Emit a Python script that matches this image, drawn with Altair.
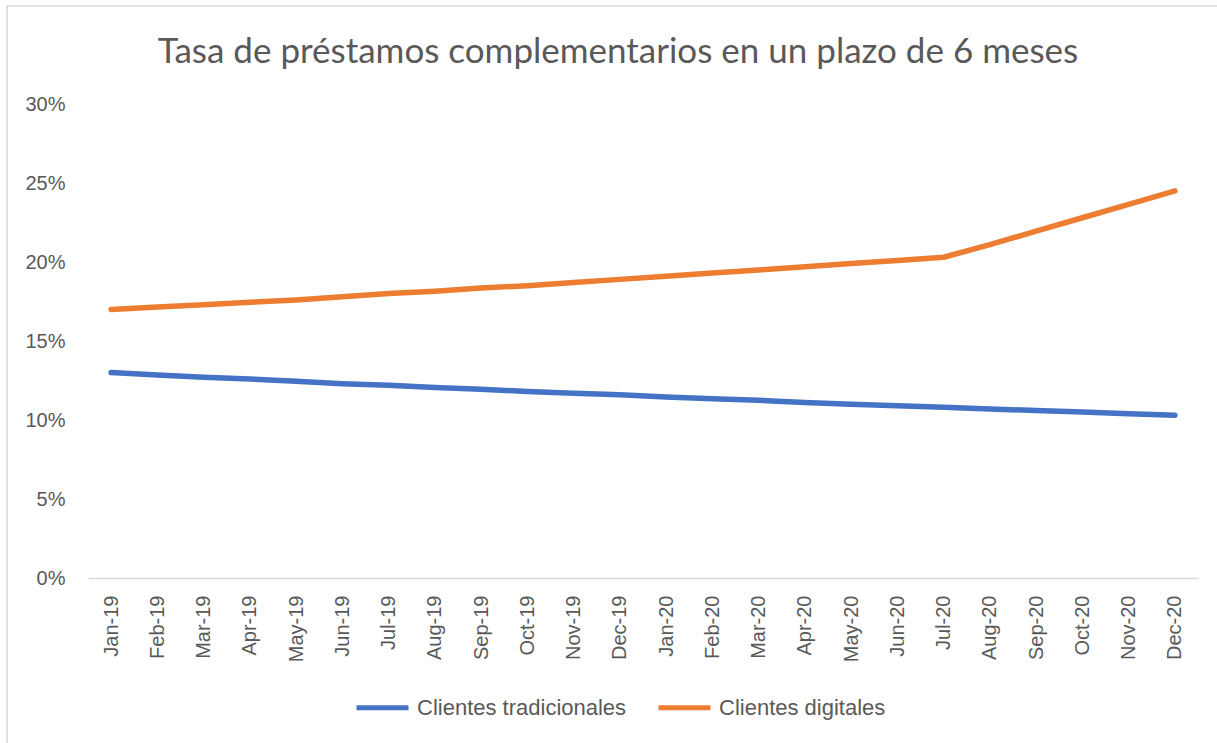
import altair as alt
import pandas as pd

months = ["Jan-19", "Feb-19", "Mar-19", "Apr-19", "May-19", "Jun-19", "Jul-19", "Aug-19",
          "Sep-19", "Oct-19", "Nov-19", "Dec-19", "Jan-20", "Feb-20", "Mar-20", "Apr-20",
          "May-20", "Jun-20", "Jul-20", "Aug-20", "Sep-20", "Oct-20", "Nov-20", "Dec-20"]
tradicionales = [13.0, 12.85, 12.7, 12.6, 12.45, 12.3, 12.2, 12.05, 11.95, 11.8, 11.7, 11.6,
                 11.45, 11.35, 11.25, 11.1, 11.0, 10.9, 10.8, 10.7, 10.6, 10.5, 10.4, 10.3]
digitales = [17.0, 17.15, 17.3, 17.45, 17.6, 17.8, 18.0, 18.15, 18.35, 18.5, 18.7, 18.9,
             19.1, 19.3, 19.5, 19.7, 19.9, 20.1, 20.3, 21.1, 21.95, 22.8, 23.65, 24.5]
series_names = ["Clientes tradicionales", "Clientes digitales"]
series_colors = ["#4472C4", "#ED7D31"]
y_ticks = [0, 5, 10, 15, 20, 25, 30]
title_text = "Tasa de préstamos complementarios en un plazo de 6 meses"

rows = []
for i, m in enumerate(months):
    rows.append({"mes": m, "serie": series_names[0], "valor": tradicionales[i], "orden": i})
    rows.append({"mes": m, "serie": series_names[1], "valor": digitales[i], "orden": i})
df = pd.DataFrame(rows)

TXT = "#595959"
FONT = "Liberation Sans"

lines = alt.Chart(df).mark_line(strokeWidth=5.5, strokeCap="round", strokeJoin="round").encode(
    x=alt.X("mes:N", sort=months, title=None,
            scale=alt.Scale(type="point", padding=0.5),
            axis=alt.Axis(labelAngle=270, ticks=False, labelPadding=17, domainColor="#d9d9d9",
                          domainWidth=1.5, labelColor=TXT, labelFont=FONT, labelFontSize=20,
                          grid=False)),
    y=alt.Y("valor:Q", title=None, scale=alt.Scale(domain=[0, 30]),
            axis=alt.Axis(values=y_ticks, labelExpr="datum.value + '%'", domain=False, ticks=False,
                          grid=False, labelPadding=23, labelColor=TXT, labelFont=FONT,
                          labelFontSize=20)),
    color=alt.Color("serie:N", sort=series_names,
                    scale=alt.Scale(domain=series_names, range=series_colors),
                    legend=alt.Legend(title=None, orient="none", direction="horizontal",
                                      legendX=266, legendY=575, symbolType="stroke",
                                      symbolSize=2700, symbolStrokeWidth=5, labelFontSize=22,
                                      labelFont=FONT, labelColor=TXT, labelOffset=6,
                                      labelLimit=500, columnPadding=21)),
    order="orden:Q",
)

frame = alt.Chart(pd.DataFrame({"a": [0]})).mark_rect(fill=None, stroke="#d9d9d9", strokeWidth=1.5).encode(
    x=alt.value(-81), x2=alt.value(1140), y=alt.value(-98), y2=alt.value(650)
)

title = alt.Chart(pd.DataFrame({"t": [title_text]})).mark_text(
    font="Lato", fontSize=35, color=TXT, align="center", baseline="alphabetic"
).encode(text="t:N", x=alt.value(530), y=alt.value(-41))

chart = alt.layer(frame, lines, title).properties(
    width=1110, height=474,
    padding={"left": 88, "top": 104, "right": 19, "bottom": 165},
    autosize=alt.AutoSizeParams(type="none"),
).configure_view(stroke=None)

chart.save("out.html", embed_options={"renderer": "svg", "actions": False})
